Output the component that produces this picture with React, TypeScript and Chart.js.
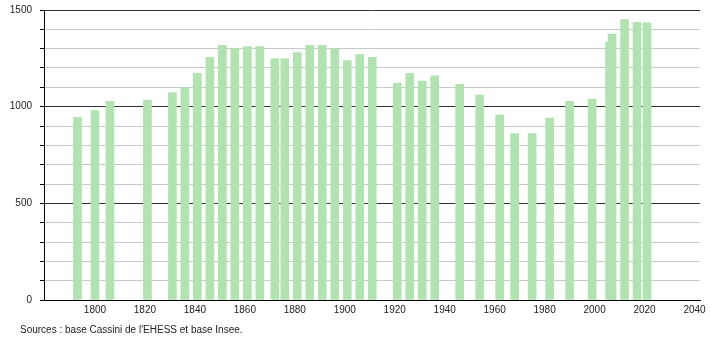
import React, { useEffect, useRef } from "react";
import { Chart, registerables } from "chart.js";

Chart.register(...registerables);

const years = [1793, 1800, 1806, 1821, 1831, 1836, 1841, 1846, 1851, 1856, 1861, 1866, 1872, 1876, 1881, 1886, 1891, 1896, 1901, 1906, 1911, 1921, 1926, 1931, 1936, 1946, 1954, 1962, 1968, 1975, 1982, 1990, 1999, 2006, 2007, 2012, 2017, 2021];
const population = [945, 980, 1027, 1034, 1073, 1099, 1172, 1255, 1317, 1301, 1311, 1311, 1248, 1248, 1280, 1317, 1317, 1299, 1239, 1270, 1255, 1122, 1172, 1132, 1160, 1115, 1060, 956, 861, 861, 941, 1027, 1039, 1334, 1375, 1451, 1436, 1434];
const xTicks = [1800, 1820, 1840, 1860, 1880, 1900, 1920, 1940, 1960, 1980, 2000, 2020, 2040];
const yLabelTicks = [0, 500, 1000, 1500];
const sourceText = "Sources : base Cassini de l'EHESS et base Insee.";

const FONT = "'Liberation Sans', Arial, sans-serif";

export default function App() {
  const ref = useRef<HTMLCanvasElement | null>(null);

  useEffect(() => {
    if (!ref.current) return;
    const sourcePlugin = {
      id: "sourceText",
      afterDraw(chart: any) {
        const ctx = chart.ctx;
        ctx.save();
        ctx.font = `10px ${FONT}`;
        ctx.fillStyle = "#222";
        ctx.textBaseline = "alphabetic";
        ctx.textAlign = "left";
        ctx.fillText(sourceText, 20, 332.5);
        ctx.restore();
      },
    };
    const chart = new Chart(ref.current, {
      type: "bar",
      data: {
        datasets: [
          {
            data: years.map((y, i) => ({ x: y, y: population[i] })),
            backgroundColor: "#b0e3b0",
            borderWidth: 0,
            barThickness: 8,
          },
        ],
      },
      options: {
        animation: false,
        responsive: false,
        maintainAspectRatio: false,
        layout: { padding: { top: 10, right: 10, left: 0, bottom: 20 } },
        plugins: {
          legend: { display: false },
          tooltip: { enabled: false },
          title: { display: false },
        },
        scales: {
          x: {
            type: "linear",
            min: 1779.6,
            max: 2042.2,
            offset: false,
            afterBuildTicks: (scale: any) => {
              scale.ticks = xTicks.map((v) => ({ value: v }));
            },
            afterFit: (scale: any) => {
              scale.height = 20;
            },
            grid: { display: false, drawTicks: false, offset: false },
            border: { display: true, color: "#000", width: 1 },
            ticks: {
              autoSkip: false,
              maxRotation: 0,
              padding: 4,
              color: "#222",
              font: { family: FONT, size: 10 },
              callback: (v: any) => String(v),
            },
          },
          y: {
            min: 0,
            max: 1500,
            afterBuildTicks: (scale: any) => {
              const t = [];
              for (let v = 0; v <= 1500; v += 100) t.push({ value: v });
              scale.ticks = t;
            },
            afterFit: (scale: any) => {
              scale.width = 44;
              scale.paddingTop = 0;
              scale.paddingBottom = 0;
            },
            grid: {
              color: (ctx: any) => (ctx.tick && ctx.tick.value % 500 === 0 ? "#333" : "#c8c8c8"),
              tickColor: "#000",
              tickLength: 4,
              lineWidth: 1,
            },
            border: { display: true, color: "#000", width: 1 },
            ticks: {
              autoSkip: false,
              padding: 8,
              color: "#222",
              font: { family: FONT, size: 10, lineHeight: 0.4 },
              callback: (v: any) => (yLabelTicks.includes(Number(v)) ? String(v) : ""),
            },
          },
        },
      },
      plugins: [sourcePlugin],
    });
    return () => chart.destroy();
  }, []);

  return (
    <div style={{ position: "fixed", left: 0, top: 0, width: 710, height: 340, background: "#fff" }}>
      <canvas ref={ref} width={710} height={340} style={{ width: 710, height: 340, display: "block" }} />
    </div>
  );
}
